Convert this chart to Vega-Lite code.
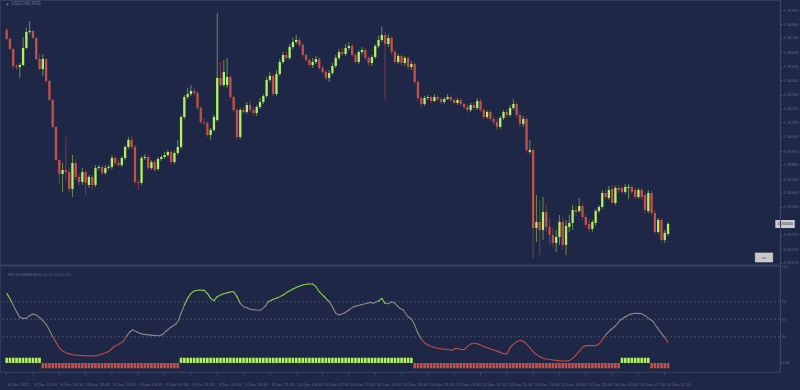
{
  "$schema": "https://vega.github.io/schema/vega-lite/v6.json",
  "width": 780,
  "height": 372,
  "autosize": {"type": "none"},
  "padding": {"left": 0, "top": 0, "right": 20, "bottom": 18},
  "background": "#1e2746",
  "config": {"view": {"stroke": "#313c5e", "strokeWidth": 1.2}, "font": "Liberation Sans"},
  "datasets": {
    "candles": [
      {"i":0,"open":1.36801,"high":1.36815,"low":1.36731,"close":1.36738,"sig":6},
      {"i":1,"open":1.36738,"high":1.36752,"low":1.36661,"close":1.36668,"sig":6},
      {"i":2,"open":1.36668,"high":1.36675,"low":1.36528,"close":1.36549,"sig":6},
      {"i":3,"open":1.36549,"high":1.36563,"low":1.36521,"close":1.36542,"sig":6},
      {"i":4,"open":1.36542,"high":1.36570,"low":1.36466,"close":1.36556,"sig":6},
      {"i":5,"open":1.36556,"high":1.36752,"low":1.36549,"close":1.36675,"sig":6},
      {"i":6,"open":1.36675,"high":1.36815,"low":1.36668,"close":1.36787,"sig":6},
      {"i":7,"open":1.36787,"high":1.36863,"low":1.36773,"close":1.36794,"sig":6},
      {"i":8,"open":1.36794,"high":1.36801,"low":1.36738,"close":1.36745,"sig":6},
      {"i":9,"open":1.36745,"high":1.36752,"low":1.36591,"close":1.36598,"sig":6},
      {"i":10,"open":1.36598,"high":1.36633,"low":1.36521,"close":1.36528,"sig":6},
      {"i":11,"open":1.36528,"high":1.36633,"low":1.36480,"close":1.36598,"sig":-6},
      {"i":12,"open":1.36598,"high":1.36605,"low":1.36431,"close":1.36445,"sig":-6},
      {"i":13,"open":1.36445,"high":1.36452,"low":1.36305,"close":1.36312,"sig":-6},
      {"i":14,"open":1.36312,"high":1.36319,"low":1.36117,"close":1.36124,"sig":-6},
      {"i":15,"open":1.36124,"high":1.36131,"low":1.35886,"close":1.35893,"sig":-6},
      {"i":16,"open":1.35893,"high":1.35900,"low":1.35719,"close":1.35796,"sig":-6},
      {"i":17,"open":1.35796,"high":1.35872,"low":1.35670,"close":1.35823,"sig":-6},
      {"i":18,"open":1.35823,"high":1.36054,"low":1.35754,"close":1.35809,"sig":-6},
      {"i":19,"open":1.35809,"high":1.35837,"low":1.35670,"close":1.35691,"sig":-6},
      {"i":20,"open":1.35691,"high":1.35928,"low":1.35635,"close":1.35872,"sig":-6},
      {"i":21,"open":1.35872,"high":1.35893,"low":1.35754,"close":1.35775,"sig":-6},
      {"i":22,"open":1.35775,"high":1.35796,"low":1.35719,"close":1.35740,"sig":-6},
      {"i":23,"open":1.35740,"high":1.35837,"low":1.35719,"close":1.35809,"sig":-6},
      {"i":24,"open":1.35809,"high":1.35823,"low":1.35649,"close":1.35733,"sig":-6},
      {"i":25,"open":1.35719,"high":1.35789,"low":1.35698,"close":1.35775,"sig":-6},
      {"i":26,"open":1.35775,"high":1.35789,"low":1.35684,"close":1.35719,"sig":-6},
      {"i":27,"open":1.35719,"high":1.35858,"low":1.35705,"close":1.35837,"sig":-6},
      {"i":28,"open":1.35837,"high":1.35858,"low":1.35823,"close":1.35844,"sig":-6},
      {"i":29,"open":1.35844,"high":1.35858,"low":1.35789,"close":1.35803,"sig":-6},
      {"i":30,"open":1.35803,"high":1.35858,"low":1.35789,"close":1.35837,"sig":-6},
      {"i":31,"open":1.35837,"high":1.35858,"low":1.35823,"close":1.35844,"sig":-6},
      {"i":32,"open":1.35844,"high":1.35928,"low":1.35830,"close":1.35907,"sig":-6},
      {"i":33,"open":1.35907,"high":1.35921,"low":1.35858,"close":1.35872,"sig":-6},
      {"i":34,"open":1.35872,"high":1.35893,"low":1.35844,"close":1.35858,"sig":-6},
      {"i":35,"open":1.35858,"high":1.35921,"low":1.35844,"close":1.35907,"sig":-6},
      {"i":36,"open":1.35907,"high":1.35998,"low":1.35893,"close":1.35984,"sig":-6},
      {"i":37,"open":1.35984,"high":1.36054,"low":1.35970,"close":1.36033,"sig":-6},
      {"i":38,"open":1.36033,"high":1.36068,"low":1.35970,"close":1.35984,"sig":-6},
      {"i":39,"open":1.35984,"high":1.35998,"low":1.35719,"close":1.35740,"sig":-6},
      {"i":40,"open":1.35740,"high":1.35754,"low":1.35684,"close":1.35733,"sig":-6},
      {"i":41,"open":1.35733,"high":1.35921,"low":1.35719,"close":1.35907,"sig":-6},
      {"i":42,"open":1.35907,"high":1.35935,"low":1.35893,"close":1.35914,"sig":-6},
      {"i":43,"open":1.35914,"high":1.35928,"low":1.35823,"close":1.35837,"sig":-6},
      {"i":44,"open":1.35837,"high":1.35893,"low":1.35823,"close":1.35879,"sig":-6},
      {"i":45,"open":1.35879,"high":1.35893,"low":1.35809,"close":1.35823,"sig":-6},
      {"i":46,"open":1.35830,"high":1.35914,"low":1.35816,"close":1.35900,"sig":-6},
      {"i":47,"open":1.35900,"high":1.35928,"low":1.35886,"close":1.35914,"sig":-6},
      {"i":48,"open":1.35914,"high":1.35949,"low":1.35900,"close":1.35928,"sig":-6},
      {"i":49,"open":1.35928,"high":1.35963,"low":1.35914,"close":1.35949,"sig":-6},
      {"i":50,"open":1.35949,"high":1.35963,"low":1.35865,"close":1.35879,"sig":-6},
      {"i":51,"open":1.35879,"high":1.35956,"low":1.35865,"close":1.35942,"sig":-6},
      {"i":52,"open":1.35942,"high":1.36033,"low":1.35928,"close":1.35984,"sig":-6},
      {"i":53,"open":1.35984,"high":1.36207,"low":1.35970,"close":1.36193,"sig":6},
      {"i":54,"open":1.36193,"high":1.36347,"low":1.36179,"close":1.36333,"sig":6},
      {"i":55,"open":1.36333,"high":1.36396,"low":1.36319,"close":1.36354,"sig":6},
      {"i":56,"open":1.36354,"high":1.36417,"low":1.36340,"close":1.36375,"sig":6},
      {"i":57,"open":1.36375,"high":1.36396,"low":1.36340,"close":1.36361,"sig":6},
      {"i":58,"open":1.36361,"high":1.36375,"low":1.36242,"close":1.36256,"sig":6},
      {"i":59,"open":1.36256,"high":1.36270,"low":1.36145,"close":1.36158,"sig":6},
      {"i":60,"open":1.36158,"high":1.36186,"low":1.36131,"close":1.36152,"sig":6},
      {"i":61,"open":1.36152,"high":1.36165,"low":1.36054,"close":1.36068,"sig":6},
      {"i":62,"open":1.36068,"high":1.36117,"low":1.36033,"close":1.36103,"sig":6},
      {"i":63,"open":1.36103,"high":1.36207,"low":1.36089,"close":1.36193,"sig":6},
      {"i":64,"open":1.36172,"high":1.36919,"low":1.36158,"close":1.36466,"sig":6},
      {"i":65,"open":1.36466,"high":1.36577,"low":1.36403,"close":1.36417,"sig":6},
      {"i":66,"open":1.36417,"high":1.36591,"low":1.36403,"close":1.36507,"sig":6},
      {"i":67,"open":1.36417,"high":1.36605,"low":1.36396,"close":1.36473,"sig":6},
      {"i":68,"open":1.36473,"high":1.36487,"low":1.36319,"close":1.36333,"sig":6},
      {"i":69,"open":1.36333,"high":1.36347,"low":1.36228,"close":1.36242,"sig":6},
      {"i":70,"open":1.36242,"high":1.36256,"low":1.36033,"close":1.36054,"sig":6},
      {"i":71,"open":1.36054,"high":1.36256,"low":1.36040,"close":1.36242,"sig":6},
      {"i":72,"open":1.36242,"high":1.36263,"low":1.36214,"close":1.36228,"sig":6},
      {"i":73,"open":1.36228,"high":1.36298,"low":1.36214,"close":1.36277,"sig":6},
      {"i":74,"open":1.36277,"high":1.36312,"low":1.36228,"close":1.36242,"sig":6},
      {"i":75,"open":1.36242,"high":1.36263,"low":1.36207,"close":1.36221,"sig":6},
      {"i":76,"open":1.36221,"high":1.36277,"low":1.36200,"close":1.36263,"sig":6},
      {"i":77,"open":1.36263,"high":1.36326,"low":1.36249,"close":1.36298,"sig":6},
      {"i":78,"open":1.36298,"high":1.36354,"low":1.36284,"close":1.36340,"sig":6},
      {"i":79,"open":1.36340,"high":1.36473,"low":1.36326,"close":1.36452,"sig":6},
      {"i":80,"open":1.36452,"high":1.36507,"low":1.36438,"close":1.36480,"sig":6},
      {"i":81,"open":1.36480,"high":1.36493,"low":1.36340,"close":1.36354,"sig":6},
      {"i":82,"open":1.36354,"high":1.36521,"low":1.36340,"close":1.36493,"sig":6},
      {"i":83,"open":1.36493,"high":1.36598,"low":1.36480,"close":1.36577,"sig":6},
      {"i":84,"open":1.36577,"high":1.36647,"low":1.36563,"close":1.36626,"sig":6},
      {"i":85,"open":1.36626,"high":1.36654,"low":1.36591,"close":1.36605,"sig":6},
      {"i":86,"open":1.36605,"high":1.36703,"low":1.36591,"close":1.36682,"sig":6},
      {"i":87,"open":1.36682,"high":1.36745,"low":1.36668,"close":1.36717,"sig":6},
      {"i":88,"open":1.36717,"high":1.36766,"low":1.36703,"close":1.36731,"sig":6},
      {"i":89,"open":1.36731,"high":1.36752,"low":1.36682,"close":1.36696,"sig":6},
      {"i":90,"open":1.36696,"high":1.36710,"low":1.36612,"close":1.36626,"sig":6},
      {"i":91,"open":1.36626,"high":1.36640,"low":1.36577,"close":1.36591,"sig":6},
      {"i":92,"open":1.36591,"high":1.36605,"low":1.36542,"close":1.36556,"sig":6},
      {"i":93,"open":1.36556,"high":1.36605,"low":1.36535,"close":1.36577,"sig":6},
      {"i":94,"open":1.36577,"high":1.36619,"low":1.36563,"close":1.36598,"sig":6},
      {"i":95,"open":1.36598,"high":1.36612,"low":1.36521,"close":1.36535,"sig":6},
      {"i":96,"open":1.36535,"high":1.36556,"low":1.36493,"close":1.36507,"sig":6},
      {"i":97,"open":1.36507,"high":1.36521,"low":1.36452,"close":1.36466,"sig":6},
      {"i":98,"open":1.36466,"high":1.36521,"low":1.36438,"close":1.36500,"sig":6},
      {"i":99,"open":1.36500,"high":1.36570,"low":1.36487,"close":1.36549,"sig":6},
      {"i":100,"open":1.36549,"high":1.36626,"low":1.36535,"close":1.36605,"sig":6},
      {"i":101,"open":1.36605,"high":1.36668,"low":1.36591,"close":1.36647,"sig":6},
      {"i":102,"open":1.36647,"high":1.36682,"low":1.36619,"close":1.36633,"sig":6},
      {"i":103,"open":1.36633,"high":1.36703,"low":1.36619,"close":1.36675,"sig":6},
      {"i":104,"open":1.36675,"high":1.36717,"low":1.36661,"close":1.36689,"sig":6},
      {"i":105,"open":1.36689,"high":1.36703,"low":1.36612,"close":1.36626,"sig":6},
      {"i":106,"open":1.36626,"high":1.36640,"low":1.36563,"close":1.36577,"sig":6},
      {"i":107,"open":1.36577,"high":1.36661,"low":1.36563,"close":1.36647,"sig":6},
      {"i":108,"open":1.36647,"high":1.36682,"low":1.36626,"close":1.36661,"sig":6},
      {"i":109,"open":1.36661,"high":1.36675,"low":1.36591,"close":1.36605,"sig":6},
      {"i":110,"open":1.36605,"high":1.36619,"low":1.36549,"close":1.36570,"sig":6},
      {"i":111,"open":1.36570,"high":1.36626,"low":1.36549,"close":1.36612,"sig":6},
      {"i":112,"open":1.36612,"high":1.36703,"low":1.36598,"close":1.36689,"sig":6},
      {"i":113,"open":1.36689,"high":1.36759,"low":1.36675,"close":1.36731,"sig":6},
      {"i":114,"open":1.36731,"high":1.36822,"low":1.36717,"close":1.36766,"sig":6},
      {"i":115,"open":1.36766,"high":1.36787,"low":1.36312,"close":1.36703,"sig":6},
      {"i":116,"open":1.36703,"high":1.36773,"low":1.36682,"close":1.36745,"sig":6},
      {"i":117,"open":1.36745,"high":1.36759,"low":1.36626,"close":1.36647,"sig":6},
      {"i":118,"open":1.36647,"high":1.36661,"low":1.36556,"close":1.36577,"sig":6},
      {"i":119,"open":1.36577,"high":1.36633,"low":1.36563,"close":1.36619,"sig":6},
      {"i":120,"open":1.36619,"high":1.36633,"low":1.36549,"close":1.36570,"sig":6},
      {"i":121,"open":1.36570,"high":1.36619,"low":1.36549,"close":1.36605,"sig":6},
      {"i":122,"open":1.36605,"high":1.36619,"low":1.36521,"close":1.36542,"sig":6},
      {"i":123,"open":1.36542,"high":1.36584,"low":1.36521,"close":1.36563,"sig":6},
      {"i":124,"open":1.36563,"high":1.36577,"low":1.36424,"close":1.36438,"sig":-6},
      {"i":125,"open":1.36438,"high":1.36452,"low":1.36305,"close":1.36326,"sig":-6},
      {"i":126,"open":1.36326,"high":1.36340,"low":1.36263,"close":1.36284,"sig":-6},
      {"i":127,"open":1.36284,"high":1.36340,"low":1.36270,"close":1.36326,"sig":-6},
      {"i":128,"open":1.36326,"high":1.36347,"low":1.36312,"close":1.36333,"sig":-6},
      {"i":129,"open":1.36333,"high":1.36347,"low":1.36291,"close":1.36305,"sig":-6},
      {"i":130,"open":1.36305,"high":1.36354,"low":1.36298,"close":1.36333,"sig":-6},
      {"i":131,"open":1.36333,"high":1.36347,"low":1.36305,"close":1.36319,"sig":-6},
      {"i":132,"open":1.36319,"high":1.36333,"low":1.36284,"close":1.36298,"sig":-6},
      {"i":133,"open":1.36298,"high":1.36333,"low":1.36284,"close":1.36319,"sig":-6},
      {"i":134,"open":1.36319,"high":1.36354,"low":1.36312,"close":1.36333,"sig":-6},
      {"i":135,"open":1.36333,"high":1.36347,"low":1.36298,"close":1.36312,"sig":-6},
      {"i":136,"open":1.36312,"high":1.36326,"low":1.36277,"close":1.36291,"sig":-6},
      {"i":137,"open":1.36291,"high":1.36326,"low":1.36277,"close":1.36312,"sig":-6},
      {"i":138,"open":1.36312,"high":1.36326,"low":1.36270,"close":1.36284,"sig":-6},
      {"i":139,"open":1.36284,"high":1.36298,"low":1.36249,"close":1.36263,"sig":-6},
      {"i":140,"open":1.36263,"high":1.36284,"low":1.36221,"close":1.36242,"sig":-6},
      {"i":141,"open":1.36242,"high":1.36291,"low":1.36228,"close":1.36277,"sig":-6},
      {"i":142,"open":1.36277,"high":1.36298,"low":1.36242,"close":1.36256,"sig":-6},
      {"i":143,"open":1.36256,"high":1.36326,"low":1.36242,"close":1.36305,"sig":-6},
      {"i":144,"open":1.36305,"high":1.36319,"low":1.36228,"close":1.36242,"sig":-6},
      {"i":145,"open":1.36242,"high":1.36256,"low":1.36179,"close":1.36193,"sig":-6},
      {"i":146,"open":1.36193,"high":1.36242,"low":1.36179,"close":1.36228,"sig":-6},
      {"i":147,"open":1.36228,"high":1.36242,"low":1.36165,"close":1.36179,"sig":-6},
      {"i":148,"open":1.36179,"high":1.36200,"low":1.36138,"close":1.36158,"sig":-6},
      {"i":149,"open":1.36158,"high":1.36179,"low":1.36103,"close":1.36124,"sig":-6},
      {"i":150,"open":1.36124,"high":1.36200,"low":1.36110,"close":1.36186,"sig":-6},
      {"i":151,"open":1.36186,"high":1.36242,"low":1.36172,"close":1.36228,"sig":-6},
      {"i":152,"open":1.36228,"high":1.36249,"low":1.36186,"close":1.36207,"sig":-6},
      {"i":153,"open":1.36207,"high":1.36277,"low":1.36193,"close":1.36256,"sig":-6},
      {"i":154,"open":1.36256,"high":1.36319,"low":1.36242,"close":1.36284,"sig":-6},
      {"i":155,"open":1.36284,"high":1.36298,"low":1.36186,"close":1.36207,"sig":-6},
      {"i":156,"open":1.36207,"high":1.36228,"low":1.36124,"close":1.36145,"sig":-6},
      {"i":157,"open":1.36145,"high":1.36200,"low":1.36124,"close":1.36179,"sig":-6},
      {"i":158,"open":1.36179,"high":1.36193,"low":1.35942,"close":1.35963,"sig":-6},
      {"i":159,"open":1.35949,"high":1.36033,"low":1.35935,"close":1.35963,"sig":-6},
      {"i":160,"open":1.35963,"high":1.35977,"low":1.35209,"close":1.35419,"sig":-6},
      {"i":161,"open":1.35419,"high":1.35649,"low":1.35321,"close":1.35460,"sig":-6},
      {"i":162,"open":1.35460,"high":1.35614,"low":1.35230,"close":1.35405,"sig":-6},
      {"i":163,"open":1.35405,"high":1.35635,"low":1.35335,"close":1.35530,"sig":-6},
      {"i":164,"open":1.35530,"high":1.35579,"low":1.35391,"close":1.35426,"sig":-6},
      {"i":165,"open":1.35426,"high":1.35488,"low":1.35300,"close":1.35370,"sig":-6},
      {"i":166,"open":1.35370,"high":1.35419,"low":1.35286,"close":1.35314,"sig":-6},
      {"i":167,"open":1.35314,"high":1.35405,"low":1.35251,"close":1.35356,"sig":-6},
      {"i":168,"open":1.35356,"high":1.35509,"low":1.35300,"close":1.35460,"sig":-6},
      {"i":169,"open":1.35460,"high":1.35495,"low":1.35265,"close":1.35300,"sig":-6},
      {"i":170,"open":1.35300,"high":1.35474,"low":1.35230,"close":1.35433,"sig":-6},
      {"i":171,"open":1.35426,"high":1.35509,"low":1.35391,"close":1.35454,"sig":-6},
      {"i":172,"open":1.35454,"high":1.35579,"low":1.35405,"close":1.35544,"sig":-6},
      {"i":173,"open":1.35544,"high":1.35572,"low":1.35502,"close":1.35530,"sig":-6},
      {"i":174,"open":1.35537,"high":1.35628,"low":1.35523,"close":1.35572,"sig":-6},
      {"i":175,"open":1.35572,"high":1.35593,"low":1.35474,"close":1.35495,"sig":-6},
      {"i":176,"open":1.35495,"high":1.35516,"low":1.35419,"close":1.35440,"sig":-6},
      {"i":177,"open":1.35447,"high":1.35474,"low":1.35391,"close":1.35412,"sig":-6},
      {"i":178,"open":1.35412,"high":1.35474,"low":1.35391,"close":1.35460,"sig":-6},
      {"i":179,"open":1.35454,"high":1.35551,"low":1.35433,"close":1.35537,"sig":-6},
      {"i":180,"open":1.35537,"high":1.35579,"low":1.35523,"close":1.35565,"sig":-6},
      {"i":181,"open":1.35565,"high":1.35684,"low":1.35551,"close":1.35663,"sig":-6},
      {"i":182,"open":1.35663,"high":1.35684,"low":1.35621,"close":1.35635,"sig":-6},
      {"i":183,"open":1.35628,"high":1.35712,"low":1.35614,"close":1.35684,"sig":-6},
      {"i":184,"open":1.35691,"high":1.35719,"low":1.35593,"close":1.35593,"sig":-6},
      {"i":185,"open":1.35593,"high":1.35712,"low":1.35579,"close":1.35698,"sig":-6},
      {"i":186,"open":1.35698,"high":1.35719,"low":1.35663,"close":1.35684,"sig":-6},
      {"i":187,"open":1.35698,"high":1.35712,"low":1.35656,"close":1.35670,"sig":6},
      {"i":188,"open":1.35670,"high":1.35726,"low":1.35656,"close":1.35705,"sig":6},
      {"i":189,"open":1.35698,"high":1.35726,"low":1.35621,"close":1.35705,"sig":6},
      {"i":190,"open":1.35705,"high":1.35719,"low":1.35656,"close":1.35670,"sig":6},
      {"i":191,"open":1.35684,"high":1.35698,"low":1.35621,"close":1.35635,"sig":6},
      {"i":192,"open":1.35635,"high":1.35698,"low":1.35621,"close":1.35684,"sig":6},
      {"i":193,"open":1.35684,"high":1.35698,"low":1.35614,"close":1.35635,"sig":6},
      {"i":194,"open":1.35649,"high":1.35663,"low":1.35523,"close":1.35544,"sig":6},
      {"i":195,"open":1.35537,"high":1.35684,"low":1.35523,"close":1.35663,"sig":6},
      {"i":196,"open":1.35663,"high":1.35684,"low":1.35509,"close":1.35523,"sig":-6},
      {"i":197,"open":1.35523,"high":1.35544,"low":1.35377,"close":1.35391,"sig":-6},
      {"i":198,"open":1.35391,"high":1.35488,"low":1.35377,"close":1.35474,"sig":-6},
      {"i":199,"open":1.35474,"high":1.35488,"low":1.35321,"close":1.35335,"sig":-6},
      {"i":200,"open":1.35335,"high":1.35405,"low":1.35314,"close":1.35384,"sig":-6},
      {"i":201,"open":1.35377,"high":1.35460,"low":1.35363,"close":1.35447,"sig":-6}
    ],
    "ind": [
      {"i":0,"v":79.6},{"i":0.5,"v":76.9},{"i":1.5,"v":70.1},{"i":3,"v":58.7},{"i":4,"v":52.2},{"i":5,"v":51.0},{"i":6,"v":51.0},{"i":7,"v":54.1},{"i":8,"v":56.0},{"i":9,"v":54.9},{"i":10,"v":52.2},{"i":11,"v":48.4},{"i":12,"v":44.2},{"i":13,"v":37.7},{"i":14,"v":30.1},{"i":15,"v":23.6},{"i":16,"v":17.5},{"i":17,"v":13.7},{"i":18.5,"v":11.0},{"i":20,"v":9.5},{"i":21.5,"v":8.8},{"i":23.5,"v":8.4},{"i":25.5,"v":8.0},{"i":27.5,"v":8.4},{"i":29,"v":10.3},{"i":30.5,"v":12.2},{"i":31.5,"v":14.5},{"i":32.5,"v":18.3},{"i":34,"v":21.3},{"i":35.5,"v":25.1},{"i":36.5,"v":30.9},{"i":37.5,"v":35.8},{"i":38.3,"v":37.7},{"i":39.5,"v":35.8},{"i":41,"v":33.1},{"i":42.5,"v":32.4},{"i":44.5,"v":31.6},{"i":46.5,"v":31.2},{"i":47.5,"v":32.8},{"i":48.5,"v":36.6},{"i":50,"v":41.1},{"i":51.5,"v":44.9},{"i":52.3,"v":49.1},{"i":53,"v":56.8},{"i":54,"v":66.3},{"i":55,"v":73.9},{"i":56,"v":79.6},{"i":57,"v":82.3},{"i":58.5,"v":83.4},{"i":60,"v":83.0},{"i":61,"v":79.6},{"i":62,"v":73.9},{"i":63,"v":71.2},{"i":64,"v":75.8},{"i":65.5,"v":78.5},{"i":67,"v":80.4},{"i":68.5,"v":81.5},{"i":69,"v":81.5},{"i":70,"v":75.8},{"i":71,"v":68.2},{"i":72,"v":64.4},{"i":73,"v":63.2},{"i":74,"v":61.3},{"i":75.5,"v":60.6},{"i":77,"v":60.2},{"i":78.5,"v":64.4},{"i":79.5,"v":70.1},{"i":81,"v":72.8},{"i":82.5,"v":74.7},{"i":84,"v":77.7},{"i":85.5,"v":81.5},{"i":87,"v":84.6},{"i":88.5,"v":87.2},{"i":90,"v":89.1},{"i":91.5,"v":90.3},{"i":93,"v":90.3},{"i":94,"v":87.2},{"i":95,"v":81.5},{"i":96.5,"v":75.8},{"i":98,"v":70.1},{"i":99,"v":64.4},{"i":100,"v":56.8},{"i":101,"v":54.9},{"i":102.5,"v":56.8},{"i":104,"v":60.6},{"i":105.5,"v":64.4},{"i":107.5,"v":66.3},{"i":109.5,"v":68.2},{"i":110.5,"v":69.3},{"i":111.5,"v":68.2},{"i":113,"v":70.9},{"i":114,"v":73.9},{"i":115,"v":68.2},{"i":116,"v":67.8},{"i":117,"v":70.1},{"i":118,"v":68.2},{"i":119.5,"v":62.5},{"i":120.5,"v":60.6},{"i":122,"v":52.9},{"i":123,"v":50.3},{"i":124,"v":43.4},{"i":125,"v":33.9},{"i":126,"v":27.4},{"i":127,"v":23.2},{"i":128,"v":20.6},{"i":129.5,"v":18.3},{"i":131,"v":16.8},{"i":132.5,"v":16.0},{"i":134.5,"v":15.2},{"i":135.5,"v":14.5},{"i":136.5,"v":16.8},{"i":137.5,"v":16.0},{"i":139,"v":15.2},{"i":140,"v":18.7},{"i":141,"v":21.7},{"i":142.5,"v":22.5},{"i":143.5,"v":21.3},{"i":145,"v":18.7},{"i":146.5,"v":16.8},{"i":148,"v":14.9},{"i":149.5,"v":13.0},{"i":151,"v":10.7},{"i":152,"v":10.3},{"i":153,"v":17.5},{"i":154,"v":21.3},{"i":155,"v":24.4},{"i":156.2,"v":25.9},{"i":157.5,"v":23.6},{"i":159,"v":17.5},{"i":160.5,"v":11.0},{"i":162,"v":7.2},{"i":163.5,"v":4.9},{"i":165.5,"v":3.8},{"i":167.5,"v":2.7},{"i":169.5,"v":2.3},{"i":171,"v":2.7},{"i":172,"v":5.3},{"i":173,"v":9.1},{"i":174,"v":13.7},{"i":175,"v":17.9},{"i":176,"v":19.8},{"i":177.5,"v":19.8},{"i":179,"v":19.8},{"i":180,"v":21.7},{"i":181,"v":26.3},{"i":182,"v":32.0},{"i":183.5,"v":37.7},{"i":185,"v":42.3},{"i":186.5,"v":49.1},{"i":188,"v":52.9},{"i":189.5,"v":55.6},{"i":191,"v":56.8},{"i":193,"v":56.4},{"i":194,"v":54.1},{"i":195.5,"v":49.9},{"i":196.5,"v":47.2},{"i":197.5,"v":41.5},{"i":199,"v":33.9},{"i":200,"v":29.0},{"i":201,"v":23.6}
    ],
    "tlabels": [
      {"i":0,"t":"8 Dec 2021"},{"i":8,"t":"8 Dec 11:30"},{"i":16,"t":"8 Dec 15:30"},{"i":24,"t":"8 Dec 19:30"},{"i":32,"t":"8 Dec 23:30"},
      {"i":40,"t":"9 Dec 03:30"},{"i":48,"t":"9 Dec 07:30"},{"i":56,"t":"9 Dec 11:30"},{"i":64,"t":"9 Dec 15:30"},{"i":72,"t":"9 Dec 19:30"},
      {"i":80,"t":"9 Dec 23:30"},{"i":88,"t":"10 Dec 03:30"},{"i":96,"t":"10 Dec 07:30"},{"i":104,"t":"10 Dec 11:30"},{"i":112,"t":"10 Dec 15:30"},
      {"i":120,"t":"10 Dec 19:30"},{"i":128,"t":"10 Dec 23:30"},{"i":136,"t":"13 Dec 03:30"},{"i":144,"t":"13 Dec 07:30"},{"i":152,"t":"13 Dec 11:30"},
      {"i":160,"t":"13 Dec 15:30"},{"i":168,"t":"13 Dec 19:30"},{"i":176,"t":"13 Dec 23:30"},{"i":184,"t":"14 Dec 03:30"},{"i":192,"t":"14 Dec 07:30"},
      {"i":200,"t":"14 Dec 11:30"}
    ]
  },
  "layer": [
    {
      "data": {"name": "candles"},
      "mark": {"type": "rule", "strokeWidth": 1, "opacity": 0.55},
      "encoding": {
        "x": {"field": "i", "type": "quantitative", "scale": {"domain": [-0.5, 233.5], "nice": false, "zero": false}, "axis": null},
        "y": {"field": "low", "type": "quantitative", "scale": {"domain": [1.34413, 1.37010], "nice": false, "zero": false},
          "axis": {"orient": "right", "values": [1.3694,1.3684,1.36745,1.36645,1.36545,1.3645,1.3635,1.3625,1.36155,1.36055,1.35955,1.3586,1.3576,1.35665,1.35565,1.3537,1.3527,1.35175],
            "format": ".5f", "labelFontSize": 4.2, "labelColor": "#5d6788", "labelPadding": 1, "tickSize": 2, "tickColor": "#4a5577",
            "domainColor": "#3a4567", "grid": false, "title": null, "labelOverlap": false, "labelFlush": false, "zindex": 1}},
        "y2": {"field": "high"},
        "color": {"condition": {"test": "datum.close >= datum.open", "value": "#a6e55a"}, "value": "#c24f48"}
      }
    },
    {
      "data": {"name": "candles"},
      "mark": {"type": "bar", "size": 2.3},
      "encoding": {
        "x": {"field": "i", "type": "quantitative", "axis": null},
        "y": {"field": "open", "type": "quantitative", "scale": {"domain": [1.34413, 1.37010], "nice": false, "zero": false}, "axis": null},
        "y2": {"field": "close"},
        "color": {"condition": {"test": "datum.close >= datum.open", "value": "#b3f25e"}, "value": "#c4504a"}
      }
    },
    {
      "data": {"values": [{}]},
      "mark": {"type": "text", "align": "left", "baseline": "middle", "fontSize": 4.5, "color": "#6a7394"},
      "encoding": {"x": {"datum": 1.5, "type": "quantitative", "axis": null},
        "y": {"datum": 1.36982, "type": "quantitative", "scale": {"domain": [1.34413, 1.37010], "nice": false, "zero": false}, "axis": null},
        "text": {"value": "USDCAD,M30"}}
    },
    {
      "data": {"values": [{}]},
      "mark": {"type": "text", "align": "left", "baseline": "middle", "fontSize": 5, "color": "#6a7394"},
      "encoding": {"x": {"datum": -0.2, "type": "quantitative", "axis": null},
        "y": {"datum": 1.36982, "type": "quantitative", "scale": {"domain": [1.34413, 1.37010], "nice": false, "zero": false}, "axis": null},
        "text": {"value": "▾"}}
    },
    {
      "data": {"values": [{}]},
      "mark": {"type": "rect", "fill": "#c9ccd6"},
      "encoding": {"x": {"datum": 233.6, "type": "quantitative", "axis": null}, "x2": {"datum": 239.5},
        "y": {"datum": 1.35474, "type": "quantitative", "scale": {"domain": [1.34413, 1.37010], "nice": false, "zero": false}, "axis": null},
        "y2": {"datum": 1.35418}}
    },
    {
      "data": {"values": [{}]},
      "mark": {"type": "text", "align": "left", "baseline": "middle", "fontSize": 4.2, "color": "#1e2746"},
      "encoding": {"x": {"datum": 234.3, "type": "quantitative", "axis": null},
        "y": {"datum": 1.35446, "type": "quantitative", "scale": {"domain": [1.34413, 1.37010], "nice": false, "zero": false}, "axis": null},
        "text": {"value": "1.35446"}}
    },
    {
      "data": {"values": [{}]},
      "mark": {"type": "rect", "fill": "#c8c8c8", "stroke": "#e0e0e0", "strokeWidth": 0.5},
      "encoding": {"x": {"datum": 227.5, "type": "quantitative", "axis": null}, "x2": {"datum": 232.8},
        "y": {"datum": 1.35244, "type": "quantitative", "scale": {"domain": [1.34413, 1.37010], "nice": false, "zero": false}, "axis": null},
        "y2": {"datum": 1.35181}}
    },
    {
      "data": {"values": [{}]},
      "mark": {"type": "text", "align": "center", "baseline": "middle", "fontSize": 4, "color": "#555555"},
      "encoding": {"x": {"datum": 230.15, "type": "quantitative", "axis": null},
        "y": {"datum": 1.35212, "type": "quantitative", "scale": {"domain": [1.34413, 1.37010], "nice": false, "zero": false}, "axis": null},
        "text": {"value": "on"}}
    },
    {
      "data": {"values": [{"lv": 70}, {"lv": 50}, {"lv": 30}]},
      "mark": {"type": "rule", "strokeDash": [2, 2], "strokeWidth": 0.8, "color": "#4b5676"},
      "encoding": {
        "y": {"field": "lv", "type": "quantitative", "scale": {"domain": [-10.286, 414.857], "nice": false, "zero": false},
          "axis": {"orient": "right", "values": [110, 70, 50, 30, 0], "labelExpr": "datum.value == 0 ? '0.00' : datum.label",
            "labelFontSize": 4.2, "labelColor": "#5d6788", "labelPadding": 1, "tickSize": 0, "domain": false, "grid": false, "title": null, "labelOverlap": false, "labelFlush": false}}
      }
    },
    {
      "data": {"values": [{}]},
      "mark": {"type": "rule", "strokeWidth": 2, "color": "#34405f"},
      "encoding": {"y": {"datum": 111.4, "type": "quantitative", "scale": {"domain": [-10.286, 414.857], "nice": false, "zero": false}, "axis": null}}
    },
    {
      "data": {"name": "candles"},
      "mark": {"type": "bar", "size": 2.6},
      "encoding": {
        "x": {"field": "i", "type": "quantitative", "axis": null},
        "y": {"field": "sig", "type": "quantitative", "scale": {"domain": [-10.286, 414.857], "nice": false, "zero": false}, "axis": null},
        "y2": {"datum": 0},
        "color": {"condition": {"test": "datum.sig > 0", "value": "#b2f05c"}, "value": "#c4504a"}
      }
    },
    {
      "data": {"name": "ind"},
      "transform": [
        {"window": [{"op": "lead", "field": "i", "as": "i2"}, {"op": "lead", "field": "v", "as": "v2"}], "sort": [{"field": "i"}]},
        {"filter": "datum.i2 != null"}
      ],
      "mark": {"type": "rule", "strokeWidth": 1.1, "strokeCap": "round"},
      "encoding": {
        "x": {"field": "i", "type": "quantitative", "axis": null},
        "x2": {"field": "i2"},
        "y": {"field": "v", "type": "quantitative", "scale": {"domain": [-10.286, 414.857], "nice": false, "zero": false}, "axis": null},
        "y2": {"field": "v2"},
        "color": {"condition": [
          {"test": "(datum.v + datum.v2) / 2 > 70", "value": "#8ccf4c"},
          {"test": "(datum.v + datum.v2) / 2 < 30", "value": "#bd4b4b"}
        ], "value": "#8a8a8a"}
      }
    },
    {
      "data": {"values": [{}]},
      "mark": {"type": "text", "align": "left", "baseline": "middle", "fontSize": 4, "color": "#5d6788"},
      "encoding": {"x": {"datum": 0.3, "type": "quantitative", "axis": null},
        "y": {"datum": 100.6, "type": "quantitative", "scale": {"domain": [-10.286, 414.857], "nice": false, "zero": false}, "axis": null},
        "text": {"value": "RSI of LWMA (W30,14,70,50,30,20)"}}
    },
    {
      "data": {"name": "tlabels"},
      "mark": {"type": "rule", "strokeWidth": 1, "color": "#3f4a6c"},
      "encoding": {
        "x": {"field": "i", "type": "quantitative", "axis": null},
        "y": {"datum": -10.286, "type": "quantitative", "scale": {"domain": [-10.286, 414.857], "nice": false, "zero": false}, "axis": null},
        "y2": {"datum": -13.8}
      }
    },
    {
      "data": {"name": "tlabels"},
      "mark": {"type": "text", "align": "left", "baseline": "middle", "fontSize": 4.2, "color": "#5d6788", "dx": 1.5},
      "encoding": {
        "x": {"field": "i", "type": "quantitative", "axis": null},
        "y": {"datum": -25.1, "type": "quantitative", "scale": {"domain": [-10.286, 414.857], "nice": false, "zero": false}, "axis": null},
        "text": {"field": "t"}
      }
    }
  ],
  "resolve": {"scale": {"y": "independent"}, "axis": {"y": "independent"}}
}
